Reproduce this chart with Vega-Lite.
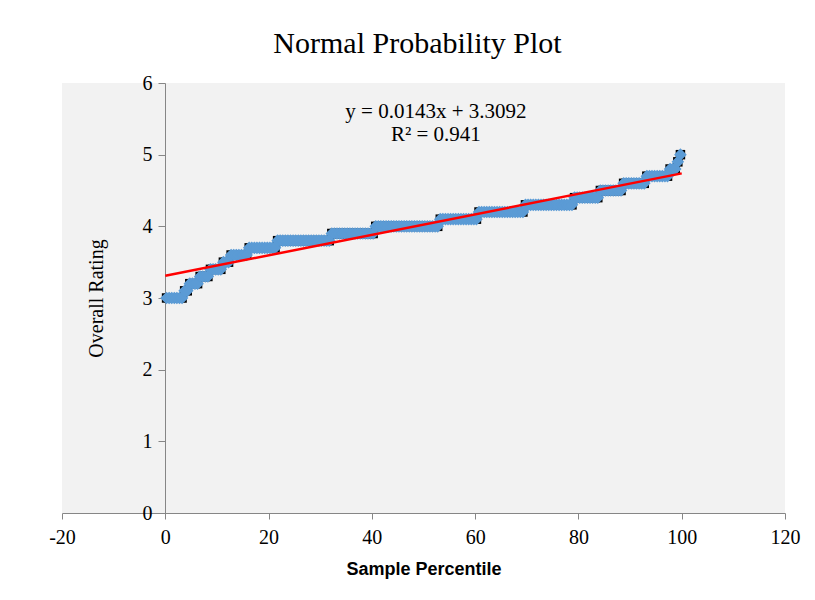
{
  "$schema": "https://vega.github.io/schema/vega-lite/v6.json",
  "width": 723,
  "height": 430,
  "autosize": "none",
  "padding": {"left": 62, "top": 83, "right": 30, "bottom": 87},
  "background": "white",
  "title": {"text": "Normal Probability Plot", "font": "Liberation Serif", "fontSize": 30, "fontWeight": "normal", "color": "black", "offset": 14, "dx": -6},
  "datasets": {
    "pts": [
      {"p":0.25,"r":3.0},{"p":0.75,"r":3.0},{"p":1.25,"r":3.0},{"p":1.75,"r":3.0},{"p":2.25,"r":3.0},{"p":2.75,"r":3.0},{"p":3.25,"r":3.0},
      {"p":3.75,"r":3.1},{"p":4.25,"r":3.1},
      {"p":4.75,"r":3.2},{"p":5.25,"r":3.2},{"p":5.75,"r":3.2},{"p":6.25,"r":3.2},
      {"p":6.75,"r":3.3},{"p":7.25,"r":3.3},{"p":7.75,"r":3.3},{"p":8.25,"r":3.3},
      {"p":8.75,"r":3.4},{"p":9.25,"r":3.4},{"p":9.75,"r":3.4},{"p":10.25,"r":3.4},{"p":10.75,"r":3.4},
      {"p":11.25,"r":3.5},{"p":11.75,"r":3.5},{"p":12.25,"r":3.5},
      {"p":12.75,"r":3.6},{"p":13.25,"r":3.6},{"p":13.75,"r":3.6},{"p":14.25,"r":3.6},{"p":14.75,"r":3.6},{"p":15.25,"r":3.6},{"p":15.75,"r":3.6},
      {"p":16.25,"r":3.7},{"p":16.75,"r":3.7},{"p":17.25,"r":3.7},{"p":17.75,"r":3.7},{"p":18.25,"r":3.7},{"p":18.75,"r":3.7},{"p":19.25,"r":3.7},{"p":19.75,"r":3.7},{"p":20.25,"r":3.7},{"p":20.75,"r":3.7},{"p":21.25,"r":3.7},
      {"p":21.75,"r":3.8},{"p":22.25,"r":3.8},{"p":22.75,"r":3.8},{"p":23.25,"r":3.8},{"p":23.75,"r":3.8},{"p":24.25,"r":3.8},{"p":24.75,"r":3.8},{"p":25.25,"r":3.8},{"p":25.75,"r":3.8},{"p":26.25,"r":3.8},{"p":26.75,"r":3.8},{"p":27.25,"r":3.8},{"p":27.75,"r":3.8},{"p":28.25,"r":3.8},{"p":28.75,"r":3.8},{"p":29.25,"r":3.8},{"p":29.75,"r":3.8},{"p":30.25,"r":3.8},{"p":30.75,"r":3.8},{"p":31.25,"r":3.8},{"p":31.75,"r":3.8},
      {"p":32.25,"r":3.9},{"p":32.75,"r":3.9},{"p":33.25,"r":3.9},{"p":33.75,"r":3.9},{"p":34.25,"r":3.9},{"p":34.75,"r":3.9},{"p":35.25,"r":3.9},{"p":35.75,"r":3.9},{"p":36.25,"r":3.9},{"p":36.75,"r":3.9},{"p":37.25,"r":3.9},{"p":37.75,"r":3.9},{"p":38.25,"r":3.9},{"p":38.75,"r":3.9},{"p":39.25,"r":3.9},{"p":39.75,"r":3.9},{"p":40.25,"r":3.9},
      {"p":40.75,"r":4.0},{"p":41.25,"r":4.0},{"p":41.75,"r":4.0},{"p":42.25,"r":4.0},{"p":42.75,"r":4.0},{"p":43.25,"r":4.0},{"p":43.75,"r":4.0},{"p":44.25,"r":4.0},{"p":44.75,"r":4.0},{"p":45.25,"r":4.0},{"p":45.75,"r":4.0},{"p":46.25,"r":4.0},{"p":46.75,"r":4.0},{"p":47.25,"r":4.0},{"p":47.75,"r":4.0},{"p":48.25,"r":4.0},{"p":48.75,"r":4.0},{"p":49.25,"r":4.0},{"p":49.75,"r":4.0},{"p":50.25,"r":4.0},{"p":50.75,"r":4.0},{"p":51.25,"r":4.0},{"p":51.75,"r":4.0},{"p":52.25,"r":4.0},{"p":52.75,"r":4.0},
      {"p":53.25,"r":4.1},{"p":53.75,"r":4.1},{"p":54.25,"r":4.1},{"p":54.75,"r":4.1},{"p":55.25,"r":4.1},{"p":55.75,"r":4.1},{"p":56.25,"r":4.1},{"p":56.75,"r":4.1},{"p":57.25,"r":4.1},{"p":57.75,"r":4.1},{"p":58.25,"r":4.1},{"p":58.75,"r":4.1},{"p":59.25,"r":4.1},{"p":59.75,"r":4.1},{"p":60.25,"r":4.1},
      {"p":60.75,"r":4.2},{"p":61.25,"r":4.2},{"p":61.75,"r":4.2},{"p":62.25,"r":4.2},{"p":62.75,"r":4.2},{"p":63.25,"r":4.2},{"p":63.75,"r":4.2},{"p":64.25,"r":4.2},{"p":64.75,"r":4.2},{"p":65.25,"r":4.2},{"p":65.75,"r":4.2},{"p":66.25,"r":4.2},{"p":66.75,"r":4.2},{"p":67.25,"r":4.2},{"p":67.75,"r":4.2},{"p":68.25,"r":4.2},{"p":68.75,"r":4.2},{"p":69.25,"r":4.2},
      {"p":69.75,"r":4.3},{"p":70.25,"r":4.3},{"p":70.75,"r":4.3},{"p":71.25,"r":4.3},{"p":71.75,"r":4.3},{"p":72.25,"r":4.3},{"p":72.75,"r":4.3},{"p":73.25,"r":4.3},{"p":73.75,"r":4.3},{"p":74.25,"r":4.3},{"p":74.75,"r":4.3},{"p":75.25,"r":4.3},{"p":75.75,"r":4.3},{"p":76.25,"r":4.3},{"p":76.75,"r":4.3},{"p":77.25,"r":4.3},{"p":77.75,"r":4.3},{"p":78.25,"r":4.3},{"p":78.75,"r":4.3},
      {"p":79.25,"r":4.4},{"p":79.75,"r":4.4},{"p":80.25,"r":4.4},{"p":80.75,"r":4.4},{"p":81.25,"r":4.4},{"p":81.75,"r":4.4},{"p":82.25,"r":4.4},{"p":82.75,"r":4.4},{"p":83.25,"r":4.4},{"p":83.75,"r":4.4},
      {"p":84.25,"r":4.5},{"p":84.75,"r":4.5},{"p":85.25,"r":4.5},{"p":85.75,"r":4.5},{"p":86.25,"r":4.5},{"p":86.75,"r":4.5},{"p":87.25,"r":4.5},{"p":87.75,"r":4.5},{"p":88.25,"r":4.5},
      {"p":88.75,"r":4.6},{"p":89.25,"r":4.6},{"p":89.75,"r":4.6},{"p":90.25,"r":4.6},{"p":90.75,"r":4.6},{"p":91.25,"r":4.6},{"p":91.75,"r":4.6},{"p":92.25,"r":4.6},{"p":92.75,"r":4.6},
      {"p":93.25,"r":4.7},{"p":93.75,"r":4.7},{"p":94.25,"r":4.7},{"p":94.75,"r":4.7},{"p":95.25,"r":4.7},{"p":95.75,"r":4.7},{"p":96.25,"r":4.7},{"p":96.75,"r":4.7},{"p":97.25,"r":4.7},
      {"p":97.75,"r":4.8},{"p":98.25,"r":4.8},{"p":98.75,"r":4.8},
      {"p":99.25,"r":4.9},
      {"p":99.75,"r":5.0}
    ],
    "fit": [
      {"p": 0, "r": 3.3092},
      {"p": 100, "r": 4.7392}
    ],
    "eq": [
      {"p": 52.4, "r": 5.595, "t": "y = 0.0143x + 3.3092"},
      {"p": 52.4, "r": 5.274, "t": "R² = 0.941"}
    ]
  },
  "encoding": {
    "x": {"field": "p", "type": "quantitative",
      "scale": {"domain": [-20, 120], "nice": false, "zero": false},
      "axis": {"values": [-20, 0, 20, 40, 60, 80, 100, 120], "title": "Sample Percentile", "labelExpr": "'' + datum.value",
        "titleFont": "Liberation Sans", "titleFontSize": 18, "titleFontWeight": "bold", "titleColor": "black", "titlePadding": 13,
        "labelFont": "Liberation Serif", "labelFontSize": 20, "labelColor": "black", "labelPadding": 8,
        "domainColor": "#868686", "tickColor": "#868686", "tickSize": 6, "grid": false, "labelFlush": false}},
    "y": {"field": "r", "type": "quantitative",
      "scale": {"domain": [0, 6], "nice": false},
      "axis": {"values": [0, 1, 2, 3, 4, 5, 6], "title": "Overall Rating", "offset": -103,
        "titleFont": "Liberation Serif", "titleFontSize": 20, "titleFontWeight": "normal", "titleColor": "black", "titlePadding": 36,
        "labelFont": "Liberation Serif", "labelFontSize": 20, "labelColor": "black", "labelPadding": 6,
        "domainColor": "#868686", "tickColor": "#868686", "tickSize": 7, "grid": false, "labelFlush": false}}
  },
  "layer": [
    {"data": {"name": "pts"}, "mark": {"type": "point", "shape": "square", "filled": true, "color": "black", "size": 90, "opacity": 1, "strokeWidth": 0}},
    {"data": {"name": "pts"}, "mark": {"type": "point", "shape": "diamond", "filled": true, "color": "#5B9BD5", "size": 160, "opacity": 1, "strokeWidth": 0}},
    {"data": {"name": "fit"}, "mark": {"type": "line", "color": "#FF0000", "strokeWidth": 2.5}},
    {"data": {"name": "eq"}, "mark": {"type": "text", "font": "Liberation Serif", "fontSize": 21, "color": "black", "baseline": "middle", "align": "center"},
      "encoding": {"text": {"field": "t"}}}
  ],
  "config": {
    "view": {"fill": "#F2F2F2", "stroke": null}
  }
}
